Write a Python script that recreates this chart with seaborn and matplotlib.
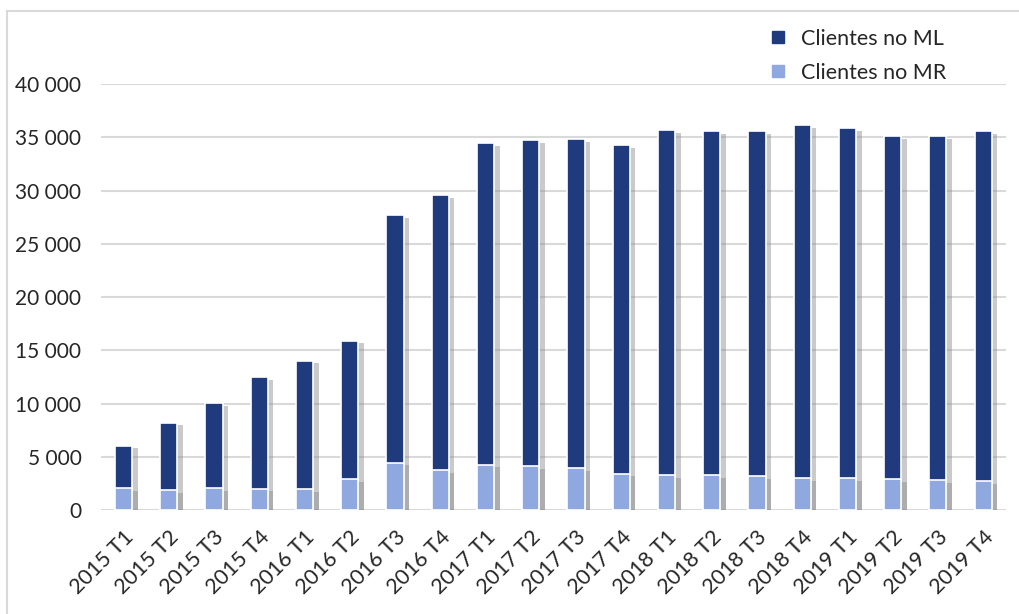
import matplotlib
matplotlib.use("Agg")
import matplotlib.pyplot as plt
import matplotlib.patheffects as pe
from matplotlib.lines import Line2D
from matplotlib.ticker import FuncFormatter
import seaborn as sns
import pandas as pd

# data
quarters = ["2015 T1", "2015 T2", "2015 T3", "2015 T4",
            "2016 T1", "2016 T2", "2016 T3", "2016 T4",
            "2017 T1", "2017 T2", "2017 T3", "2017 T4",
            "2018 T1", "2018 T2", "2018 T3", "2018 T4",
            "2019 T1", "2019 T2", "2019 T3", "2019 T4"]
totals = [6070, 8230, 10050, 12520, 14050, 15930, 27670, 29580,
          34460, 34770, 34870, 34270, 35650, 35560, 35620, 36120,
          35870, 35090, 35120, 35560]
clientes_mr = [2070, 1900, 2090, 2030, 1970, 2940, 4480, 3760,
               4290, 4160, 3970, 3440, 3320, 3290, 3190, 3030,
               3030, 2940, 2850, 2760]
clientes_ml = [t - m for t, m in zip(totals, clientes_mr)]

dark = "#1f3a7d"
light = "#8fa8e0"

sns.set_style("white")
plt.rcParams["font.family"] = ["Lato", "DejaVu Sans"]

df = pd.DataFrame({"quarter": quarters, "ml": clientes_ml, "mr": clientes_mr})
df["total"] = df["ml"] + df["mr"]

fig = plt.figure(figsize=(10.19, 6.14), dpi=100)
ax = fig.add_axes([0.099, 0.169, 0.888, 0.694])

shadow = [pe.SimplePatchShadow(offset=(4, -2), shadow_rgbFace="#8a8a8a", alpha=0.45), pe.Normal()]

# stacked: total in dark, MR drawn over the bottom part
sns.barplot(data=df, x="quarter", y="total", color=dark, width=0.38,
            edgecolor="white", linewidth=1.2, saturation=1, ax=ax)
sns.barplot(data=df, x="quarter", y="mr", color=light, width=0.38,
            edgecolor="white", linewidth=1.2, saturation=1, ax=ax)
for p in ax.patches:
    p.set_path_effects(shadow)

ax.set_ylim(0, 40000)
ax.set_xlim(-0.5, 19.5)
ax.set_yticks(range(0, 40001, 5000))
ax.yaxis.set_major_formatter(FuncFormatter(lambda v, _: f"{int(v):,}".replace(",", " ")))
ax.grid(axis="y", color="#d9d9d9", linewidth=1.5)
ax.set_axisbelow(True)
for s in ax.spines.values():
    s.set_visible(False)
ax.set_xlabel("")
ax.set_ylabel("")
ax.tick_params(axis="y", labelsize=15, pad=14, length=0)
ax.tick_params(axis="x", labelsize=15.5, pad=12, length=0)
plt.setp(ax.get_xticklabels(), rotation=45, ha="right", rotation_mode="anchor")

handles = [Line2D([], [], marker="s", linestyle="", color=dark, markersize=9),
           Line2D([], [], marker="s", linestyle="", color=light, markersize=9)]
fig.legend(handles, ["Clientes no ML", "Clientes no MR"], loc="upper left",
           bbox_to_anchor=(0.723, 0.985), frameon=False, fontsize=15.5,
           handletextpad=0.1, labelspacing=0.65)

# outer chart border (left and top)
fig.add_artist(Line2D([0.007, 0.007], [0, 0.982], color="#d9d9d9", linewidth=1.5))
fig.add_artist(Line2D([0.007, 1], [0.982, 0.982], color="#d9d9d9", linewidth=1.5))

fig.savefig("out.png", dpi=100)
